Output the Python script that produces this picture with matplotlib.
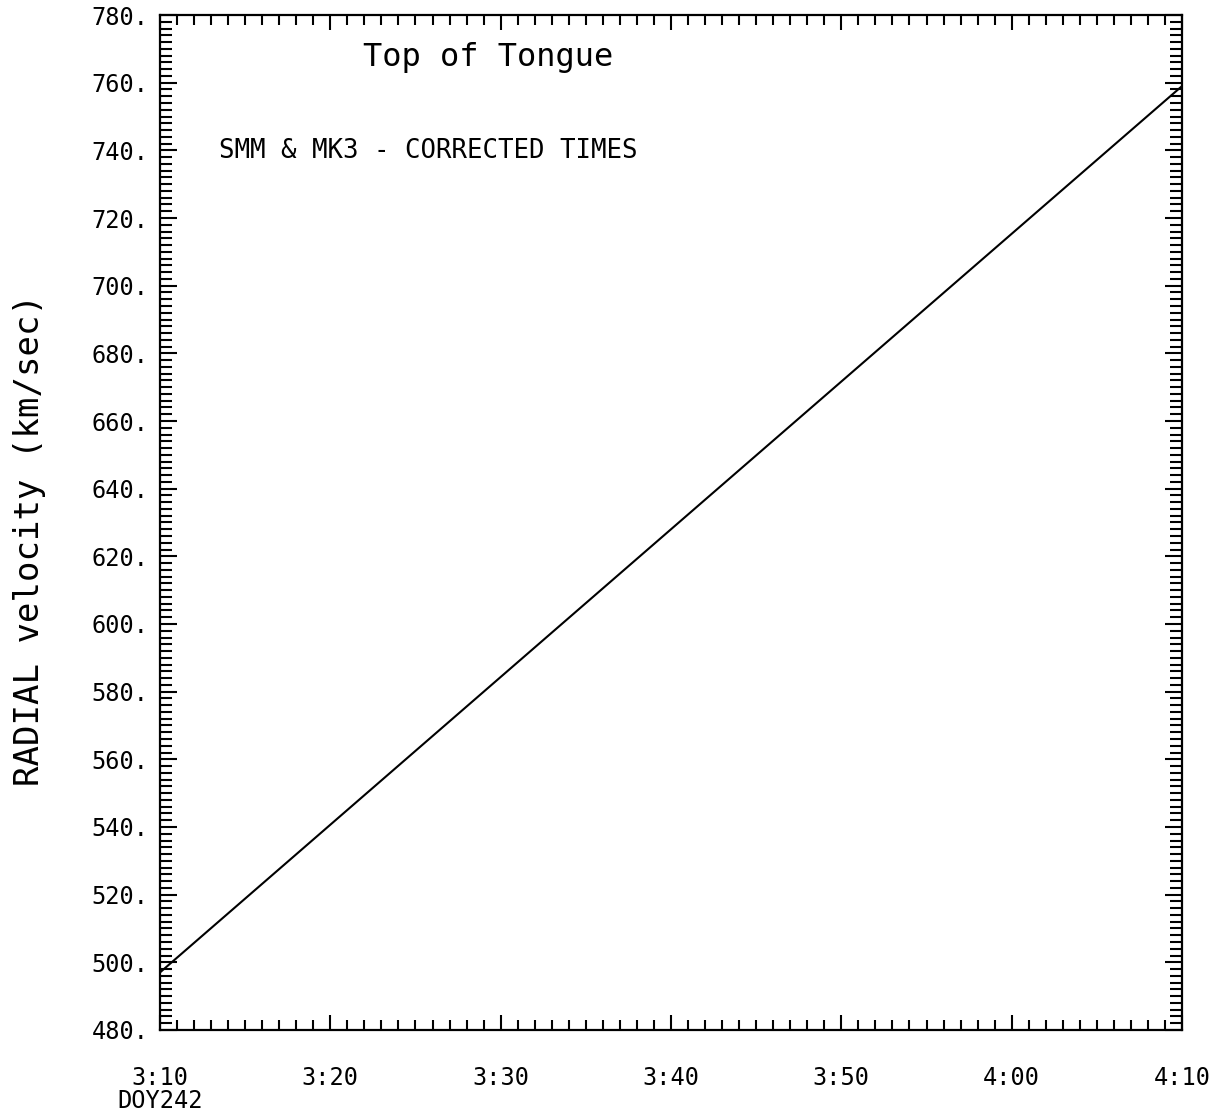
import numpy as np
import matplotlib
matplotlib.use('Agg')
import matplotlib.pyplot as plt
from matplotlib.ticker import MultipleLocator, FuncFormatter
from matplotlib.transforms import blended_transform_factory

# time in minutes after 0:00 on DOY 242, radial velocity in km/sec
time_min = [190, 250]
velocity = [497, 759]

x_ticks = [190, 200, 210, 220, 230, 240, 250]
y_ticks = list(range(480, 781, 20))

plt.rcParams['font.family'] = ['DejaVu Sans Mono']

fig = plt.figure(figsize=(12.24, 11.13), dpi=100)
ax = fig.add_axes([0.1307, 0.0746, 0.8350, 0.9119])

ax.plot(time_min, velocity, color='black', lw=1.5)

ax.set_xlim(190, 250)
ax.set_ylim(480, 780)

ax.set_xticks(x_ticks)
ax.xaxis.set_minor_locator(MultipleLocator(1))
ax.set_yticks(y_ticks)
ax.yaxis.set_minor_locator(MultipleLocator(2))

def fmt_time(v, pos):
    m = int(round(v))
    return f'{m // 60}:{m % 60:02d}'

ax.xaxis.set_major_formatter(FuncFormatter(fmt_time))
ax.yaxis.set_major_formatter(FuncFormatter(lambda v, p: f'{int(v)}.'))

ax.tick_params(axis='both', which='both', direction='in', top=True, right=True,
               width=1.5, colors='black', labelsize=17)
ax.tick_params(axis='x', which='major', length=11, pad=26)
ax.tick_params(axis='x', which='minor', length=7)
ax.tick_params(axis='y', which='major', length=12, pad=8)
ax.tick_params(axis='y', which='minor', length=8.5)

for s in ax.spines.values():
    s.set_linewidth(1.6)

ax.set_ylabel('RADIAL velocity (km/sec)', fontsize=24.5)
ax.yaxis.set_label_coords(-0.112, 0.483)

trans = blended_transform_factory(ax.transData, ax.transAxes)
ax.text(190, -0.058, 'DOY242', fontsize=17, ha='center', va='top',
        transform=trans)
ax.text(0.321, 0.958, 'Top of Tongue', fontsize=23, ha='center', va='center',
        transform=ax.transAxes)
ax.text(0.058, 0.866, 'SMM & MK3 - CORRECTED TIMES', fontsize=18.5, ha='left',
        va='center', transform=ax.transAxes)

fig.savefig('out.png', dpi=100)
